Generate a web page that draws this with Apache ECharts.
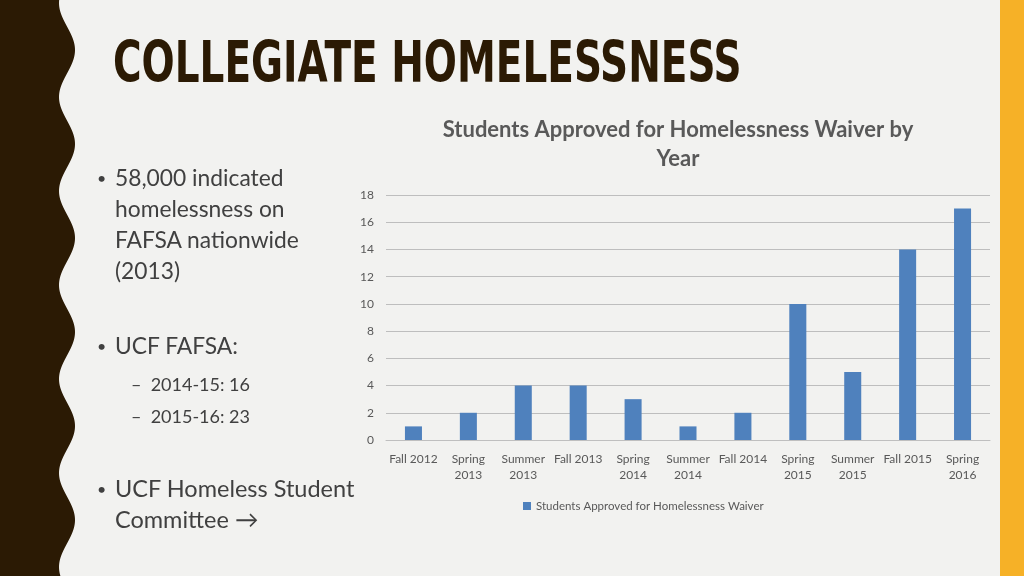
<!DOCTYPE html>
<html><head><meta charset="utf-8">
<script src="https://cdn.jsdelivr.net/npm/echarts@6/dist/echarts.min.js"></script>
<style>
html,body{margin:0;padding:0;background:#F2F2F0;}
#wrap{position:relative;width:1024px;height:576px;overflow:hidden;background:#F2F2F0;}
#chart{position:absolute;left:0;top:0;width:1024px;height:576px;}
.t{position:absolute;font-family:Lato,"Open Sans",sans-serif;color:#404040;white-space:nowrap;}
.b{position:absolute;font-family:Lato,sans-serif;color:#404040;font-size:16px;}
#title{position:absolute;left:113px;top:29px;font-family:"DejaVu Sans";font-stretch:condensed;font-weight:bold;font-size:44px;color:#2B1A04;transform:scale(0.985,1.3);transform-origin:left top;letter-spacing:0px;white-space:nowrap;}
</style></head>
<body><div id="wrap"><div id="chart"></div>
<div id="title">COLLEGIATE HOMELESSNESS</div>
<div class="b" style="left:97px;top:168px;">•</div>
<div class="t" style="left:115px;top:162px;font-size:22.8px;line-height:31px;">58,000 indicated<br>homelessness on<br>FAFSA nationwide<br>(2013)</div>
<div class="b" style="left:97px;top:336px;">•</div>
<div class="t" style="left:115px;top:330px;font-size:22.8px;line-height:31px;">UCF FAFSA:</div>
<div class="t" style="left:131px;top:368px;font-size:18px;line-height:32px;">–&nbsp;&nbsp;2014-15: 16<br>–&nbsp;&nbsp;2015-16: 23</div>
<div class="b" style="left:97px;top:479px;">•</div>
<div class="t" style="left:115px;top:473px;font-size:23.5px;line-height:31px;">UCF Homeless Student<br>Committee →</div>
</div>
<script>
var categories = ["Fall 2012","Spring\n2013","Summer\n2013","Fall 2013","Spring\n2014","Summer\n2014","Fall 2014","Spring\n2015","Summer\n2015","Fall 2015","Spring\n2016"];
var approved = [1,2,4,4,3,1,2,10,5,14,17];
var seriesName = "Students Approved for Homelessness Waiver";
var chartTitle = "Students Approved for Homelessness Waiver by\nYear";

var pts = [[0,0]];
for (var y = 0; y <= 576; y += 2) {
  pts.push([67 + 8*Math.cos(2*Math.PI*(y-50)/94), y]);
}
pts.push([0,576]);

var chart = echarts.init(document.getElementById('chart'));
chart.setOption({
  backgroundColor: 'transparent',
  title: {
    text: chartTitle, left: 673, top: 110, textAlign: 'center',
    textStyle: {fontFamily: 'Lato, "Open Sans", sans-serif', fontSize: 22, fontWeight: 'bold', color: '#595959', lineHeight: 29}
  },
  legend: {
    top: 495, left: 518, itemWidth: 8, itemHeight: 8, icon: 'rect', itemGap: 4,
    textStyle: {fontFamily: 'Lato, "Open Sans", sans-serif', fontSize: 11.5, color: '#595959'}
  },
  grid: {left: 386, right: 34, top: 195, bottom: 136},
  xAxis: {
    type: 'category', data: categories,
    axisLine: {lineStyle: {color: '#BFBFBF'}},
    axisTick: {show: false},
    axisLabel: {fontFamily: 'Lato, "Open Sans", sans-serif', fontSize: 12, color: '#595959', lineHeight: 16, interval: 0, margin: 11}
  },
  yAxis: {
    type: 'value', min: 0, max: 18, interval: 2,
    axisLine: {show: false}, axisTick: {show: false},
    splitLine: {lineStyle: {color: '#BEBEBE'}},
    axisLabel: {fontFamily: 'Lato, "Open Sans", sans-serif', fontSize: 12, color: '#595959', margin: 12}
  },
  series: [{
    name: seriesName, type: 'bar', data: approved, barWidth: '31%',
    itemStyle: {color: '#4F81BD'}
  }],
  graphic: [
    {type: 'polygon', shape: {points: pts}, style: {fill: '#2B1A04'}, silent: true},
    {type: 'rect', shape: {x: 1000, y: 0, width: 24, height: 576}, style: {fill: '#F6B127'}, silent: true}
  ]
});
</script></body></html>
